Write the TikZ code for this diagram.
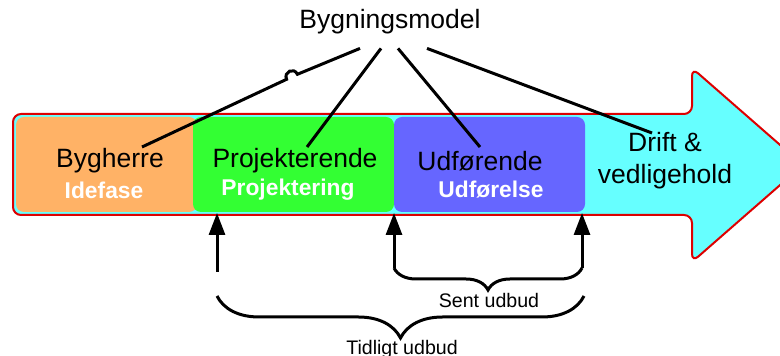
\documentclass[tikz,border=0pt]{standalone}
\usepackage{fontspec}
\setmainfont{Liberation Sans}
\usetikzlibrary{arrows.meta,decorations.pathreplacing,calc}
\definecolor{faseorange}{HTML}{FFB266}
\definecolor{fasegreen}{HTML}{33FF33}
\definecolor{faseblue}{HTML}{6666FF}
\definecolor{fasecyan}{HTML}{66FFFF}
\definecolor{pilred}{HTML}{DD0000}
\tikzset{
  fasebox/.style={rounded corners=4pt},
  rolle/.style={font=\fontsize{13.25}{16}\selectfont, align=center},
  fase/.style={font=\fontsize{11.4}{14}\selectfont\bfseries, text=white},
  udbud/.style={font=\fontsize{9.8}{12}\selectfont},
  link/.style={line width=1.5pt},
  pil/.style={line width=1.5pt, -{Triangle[width=8pt,length=11pt]}},
  tuborg/.style={line width=1.5pt, decorate, decoration={brace,amplitude=#1}},
}
\begin{document}
\begin{tikzpicture}[x=0.5pt,y=-0.5pt]
  \clip (0,0) rectangle (780,356);
  \useasboundingbox (0,0) rectangle (780,356);
  % the big arrow
  \draw[pilred, line width=1pt, fill=fasecyan, rounded corners=4pt]
    (13,114) -- (692,114) -- (692,68) -- (803,165) -- (692,262)
    -- (692,215) -- (13,215) -- cycle;
  \fill[faseorange, fasebox] (16,117) rectangle (197,212);
  \fill[fasegreen, fasebox] (193,117) rectangle (394,212);
  \fill[faseblue, fasebox] (394,117) rectangle (585,212);

  \node[rolle] (model) at (390,22) {Bygningsmodel};
  \node[rolle] (bygherre) at (110,161) {Bygherre};
  \node[fase] (idefase) at (104,190) {Idefase};
  \node[rolle] (projekterende) at (295,161) {Projekterende};
  \node[fase] (projektering) at (288,190) {Projektering};
  \node[rolle] (udfoerende) at (480,161) {Udførende};
  \node[fase] (udfoerelse) at (491,190) {Udførelse};
  \node[rolle] (drift) at (665,161) {Drift \&\\vedligehold};

  \coordinate (til1) at (142,147);
  \coordinate (til2) at (307,147);
  \coordinate (til3) at (480,147);
  \coordinate (til4) at (652,133);
  \coordinate (hop) at (292,76.8);
  \draw[link] ($(model.south)+(-30,7)$) -- ($(hop)+(5.4,-2.5)$)
    .. controls ($(hop)+(2,-10)$) and ($(hop)+(-8.8,-4.9)$) .. ($(hop)+(-5.4,2.5)$)
    -- (til1);
  \draw[link] ($(model.south)+(-9,7)$) -- (til2);
  \draw[link] ($(model.south)+(8,7)$) -- (til3);
  \draw[link] ($(model.south)+(37,7)$) -- (til4);

  % udbud
  \coordinate (tidlig) at (217,296);
  \coordinate (sentA) at (394,268);
  \coordinate (sentB) at (582,268);
  \draw[pil] ($(tidlig)+(0,-24)$) -- (217,213);
  \draw[pil] (sentA) -- (394,213);
  \draw[pil] (sentB) -- (582,213);
  \draw[tuborg=11pt] (sentB) -- (sentA);
  \draw[tuborg=21pt] (584,296) -- (tidlig);
  \node[udbud] (sent) at (489,300) {Sent udbud};
  \node[udbud] (tidligt) at (402,349) {Tidligt udbud};
\end{tikzpicture}
\end{document}
